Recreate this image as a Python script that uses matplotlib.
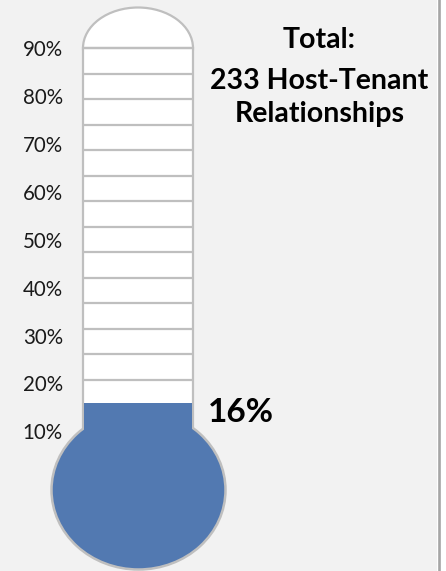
import matplotlib
matplotlib.use('Agg')
import matplotlib.pyplot as plt
from matplotlib.patches import Rectangle, Ellipse
import numpy as np

# ---- data ----
tick_values = [10, 20, 30, 40, 50, 60, 70, 80, 90]
tick_labels = ['10%', '20%', '30%', '40%', '50%', '60%', '70%', '80%', '90%']
progress_value = 16
progress_label = '16%'
title_lines = ['Total:', '233 Host-Tenant', 'Relationships']

# ---- layout / style ----
W, H, DPI = 446, 571, 100
Y0, S = 239.7, 4.79          # pixel row of 50% and pixels per percent


def p_of(ypix):
    return 50 - (ypix - Y0) / S


FONT = 'Lato'
BLUE = '#5279B1'
GRAY = '#BFBFBF'

fig = plt.figure(figsize=(W / DPI, H / DPI), dpi=DPI, facecolor='white')
ax = fig.add_axes([0, 0, 1, 1])
ax.set_xlim(0, W)
ax.set_ylim(p_of(H), p_of(0))
ax.set_facecolor('none')
for s in ax.spines.values():
    s.set_visible(False)

# background panel and its right border
ax.add_patch(Rectangle((0, p_of(H)), 437, p_of(0) - p_of(H), facecolor='#F2F2F2',
                       edgecolor='none', zorder=0))
ax.axvline(438.5, color='#A6A6A6', lw=1.9, zorder=0.5)

# ticks
ax.set_xticks([])
ax.set_yticks(tick_values)
ax.set_yticklabels(tick_labels, fontfamily=FONT, fontsize=14.8, color='#1a1a1a')
ax.tick_params(axis='y', length=0, pad=-63 * 72 / DPI)

# tube
xc, tube_w = 138, 110
tube_bottom = p_of(431.5)
top_val = 90
ax.add_patch(Ellipse((xc, top_val), tube_w, 2 * (top_val - p_of(7.5)),
                     facecolor='white', edgecolor=GRAY, lw=1.6, zorder=0.9))
ax.add_patch(Rectangle((xc - tube_w / 2, tube_bottom), tube_w, top_val - tube_bottom,
                       facecolor='white', edgecolor=GRAY, lw=1.6, zorder=1))
grid_vals = np.linspace(top_val, p_of(380), 14)
ax.hlines(grid_vals, xc - tube_w / 2, xc + tube_w / 2, color=GRAY, lw=1.6, zorder=2)

# bulb
bulb_c = p_of(490)
ax.add_patch(Ellipse((xc + 0.5, bulb_c), 174, 2 * 79.5 / S,
                     facecolor=BLUE, edgecolor=GRAY, lw=1.8, zorder=3))

# fill bar
ax.bar([xc], [progress_value - bulb_c], bottom=bulb_c, width=tube_w - 2.2,
       color=BLUE, edgecolor='none', zorder=4)

# value label
ax.text(208, p_of(421.7), progress_label, ha='left', va='baseline', fontfamily=FONT,
        fontweight='bold', fontsize=24, color='black', zorder=5)

# title
for txt, yp in zip(title_lines, [48.3, 89, 122.3]):
    ax.text(319.5, p_of(yp), txt, ha='center', va='baseline', fontfamily=FONT,
            fontweight='bold', fontsize=20.5, color='black', zorder=5)

fig.savefig('out.png', dpi=DPI, facecolor=fig.get_facecolor())
